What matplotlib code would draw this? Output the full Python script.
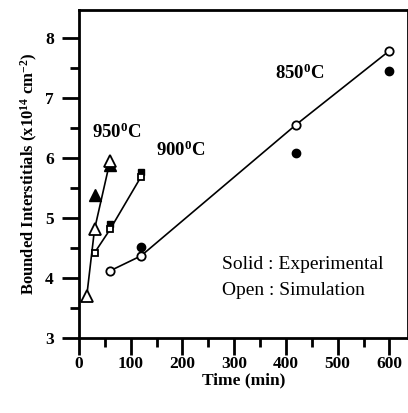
import matplotlib
matplotlib.use("Agg")
import matplotlib.pyplot as plt
from matplotlib.ticker import MultipleLocator

plt.rcParams['font.family'] = ['Liberation Serif', 'DejaVu Serif']
plt.rcParams['mathtext.default'] = 'regular'

# 850 C
t850_sim = [60, 120, 420, 600]
v850_sim = [4.12, 4.37, 6.56, 7.79]
t850_exp = [120, 420, 600]
v850_exp = [4.51, 6.09, 7.46]
# 900 C
t900_sim = [30, 60, 120]
v900_sim = [4.42, 4.81, 5.69]
t900_exp = [60, 120]
v900_exp = [4.90, 5.77]
# 950 C
t950_sim = [15, 30, 60]
v950_sim = [3.70, 4.81, 5.95]
t950_exp = [30, 60]
v950_exp = [5.38, 5.88]

xticks = [0, 100, 200, 300, 400, 500, 600]
yticks = [3, 4, 5, 6, 7, 8]

fig = plt.figure(figsize=(4.08, 4.13), dpi=100)
ax = fig.add_axes([0.1936, 0.1816, 0.8064, 0.7942])

lw = 1.2
ax.plot(t850_sim, v850_sim, '-', color='black', lw=lw, zorder=1)
ax.plot(t900_sim, v900_sim, '-', color='black', lw=lw, zorder=1)
ax.plot(t950_sim, v950_sim, '-', color='black', lw=lw, zorder=1)

ax.plot(t850_exp, v850_exp, 'o', ms=6, mfc='black', mec='black', ls='none', zorder=2)
ax.plot(t900_exp, v900_exp, 's', ms=5, mfc='black', mec='black', ls='none', zorder=2)
ax.plot(t950_exp, v950_exp, '^', ms=8, mfc='black', mec='black', ls='none', zorder=2)

ax.plot(t850_sim, v850_sim, 'o', ms=6, mfc='white', mec='black', mew=1.3, ls='none', zorder=3)
ax.plot(t900_sim, v900_sim, 's', ms=5, mfc='white', mec='black', mew=1.3, ls='none', zorder=3)
ax.plot(t950_sim, v950_sim, '^', ms=9, mfc='white', mec='black', mew=1.3, ls='none', zorder=3)

ax.set_xlim(0, 636)
ax.set_ylim(3, 8.47)
ax.set_xticks(xticks)
ax.set_yticks(yticks)
ax.xaxis.set_minor_locator(MultipleLocator(50))
ax.yaxis.set_minor_locator(MultipleLocator(0.5))
ax.tick_params(which='major', direction='out', length=12, width=2, labelsize=12.5)
ax.tick_params(which='minor', direction='out', length=6.5, width=2)
ax.tick_params(axis='x', which='major', pad=1)
ax.tick_params(axis='y', which='major', pad=6)
for lab in ax.get_xticklabels() + ax.get_yticklabels():
    lab.set_fontweight('bold')
for s in ax.spines.values():
    s.set_linewidth(2)

ax.set_xlabel('Time (min)', fontsize=12.5, fontweight='bold', labelpad=0)
ax.set_ylabel('Bounded Interstitials (x10$^{14}$ cm$^{-2}$)', fontsize=12, fontweight='bold', labelpad=4)

ax.text(73, 6.43, '950$^0$C', fontsize=13.5, fontweight='bold', ha='center', va='center')
ax.text(197, 6.13, '900$^0$C', fontsize=13.5, fontweight='bold', ha='center', va='center')
ax.text(426, 7.42, '850$^0$C', fontsize=13.5, fontweight='bold', ha='center', va='center')

ax.text(277, 4.22, 'Solid : Experimental', fontsize=14, ha='left', va='center')
ax.text(277, 3.80, 'Open : Simulation', fontsize=14, ha='left', va='center')

fig.savefig('out.png', dpi=100)
